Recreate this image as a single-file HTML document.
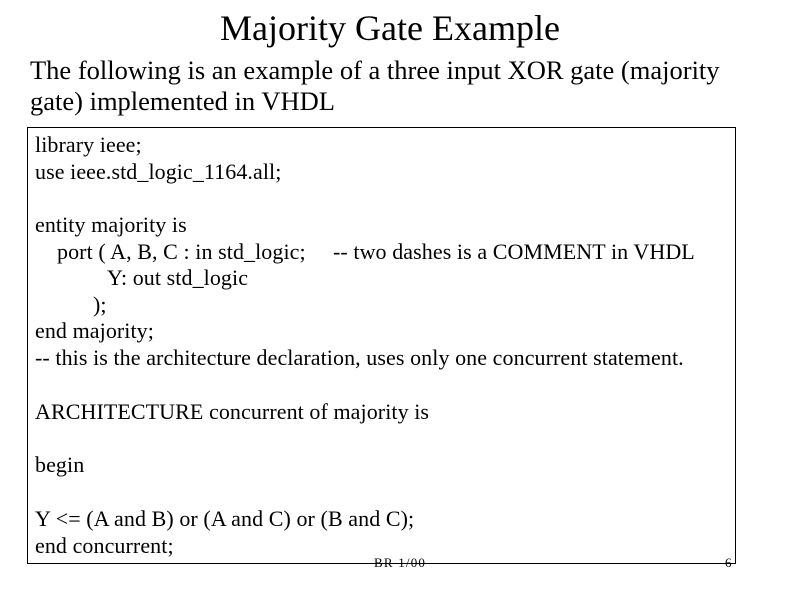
<!DOCTYPE html>
<html><head><style>
body{margin:0;width:800px;height:600px;background:#fff;position:relative;font-family:"Liberation Serif",serif;color:#000;overflow:hidden}
.t{position:absolute;white-space:pre;line-height:1}
.box{position:absolute;left:27px;top:127px;width:707px;height:435px;border:1px solid #000}
.c{font-size:22px;letter-spacing:0.08px}
</style></head><body>
<div class="t" style="left:0;width:780px;text-align:center;top:10px;font-size:36px">Majority Gate Example</div>
<div class="t" style="left:30px;top:57px;font-size:26.5px">The following is an example of a three input XOR gate (majority</div>
<div class="t" style="left:30px;top:88px;font-size:26.5px">gate) implemented in VHDL</div>
<div class="box"></div>
<div class="t c" style="left:35px;top:134px">library ieee;</div>
<div class="t c" style="left:35px;top:161px">use ieee.std_logic_1164.all;</div>
<div class="t c" style="left:35px;top:214px">entity majority is</div>
<div class="t c" style="left:57px;top:241px">port ( A, B, C : in std_logic;</div>
<div class="t c" style="left:333px;top:241px">-- two dashes is a COMMENT in VHDL</div>
<div class="t c" style="left:107px;top:267px">Y: out std_logic</div>
<div class="t c" style="left:93px;top:294px">);</div>
<div class="t c" style="left:35px;top:320px">end majority;</div>
<div class="t c" style="left:35px;top:347px">-- this is the architecture declaration, uses only one concurrent statement.</div>
<div class="t c" style="left:35px;top:401px">ARCHITECTURE concurrent of majority is</div>
<div class="t c" style="left:35px;top:454px">begin</div>
<div class="t c" style="left:35px;top:508px">Y &lt;= (A and B) or (A and C) or (B and C);</div>
<div class="t c" style="left:35px;top:535px">end concurrent;</div>
<div class="t" style="left:374px;top:556px;font-size:13px;letter-spacing:1.2px">BR 1/00</div>
<div class="t" style="left:725px;top:556px;font-size:13px">6</div>
</body></html>
